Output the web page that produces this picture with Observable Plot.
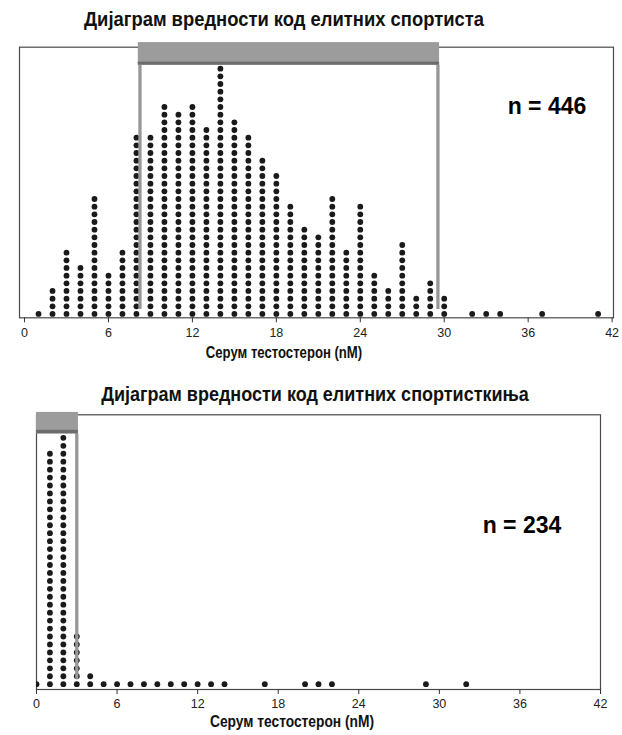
<!DOCTYPE html>
<html><head><meta charset="utf-8">
<script src="https://cdn.jsdelivr.net/npm/d3@7"></script>
<script src="https://cdn.jsdelivr.net/npm/@observablehq/plot@0.6"></script>
<style>
body{margin:0;background:#fff;font-family:"Liberation Sans",Arial,sans-serif;}
#root{position:relative;width:622px;height:735px;overflow:hidden;background:#fff}
.abs{position:absolute;white-space:nowrap;color:#111}
.title{font-weight:bold;font-size:20px}
.nlab{font-weight:bold;font-size:23px;color:#000}
.xlab{font-weight:bold;font-size:16px}
svg{position:absolute;left:0}
</style>
</head><body>
<div id="root"></div>
<script>
// ---- data ----
const titleMale = "Дијаграм вредности код елитних спортиста";
const titleFemale = "Дијаграм вредности код елитних спортисткиња";
const xAxisLabel = "Серум тестостерон (nM)";
const xTicks = [0, 6, 12, 18, 24, 30, 36, 42];

const maleValues = [1,2,3,4,5,6,7,8,9,10,11,12,13,14,15,16,17,18,19,20,21,22,23,24,25,26,27,28,29,30,32,33,34,37,41];
const maleCounts = [1,4,9,7,16,6,9,24,24,28,27,28,25,33,26,24,21,19,15,12,11,16,9,15,6,4,10,3,5,3,1,1,1,1,1];
const maleN = 446;
const maleRange = [8.25, 29.55];

const femaleValues = [0,1,2,3,4,5,6,7,8,9,10,11,12,13,14,17,20,21,22,29,32];
const femaleCounts = [1,30,32,7,2,1,1,1,1,1,1,1,1,1,1,1,1,1,1,1,1];
const femaleN = 234;
const femaleRange = [0, 3.0];

// ---- helpers ----
function stack(values, counts) {
  const out = [];
  values.forEach((v, k) => { for (let i = 0; i < counts[k]; i++) out.push({v, i}); });
  return out;
}
const root = document.getElementById("root");
function addText(cls, txt, cx, cy, sx) {
  const d = document.createElement("div");
  d.className = "abs " + cls;
  d.textContent = txt;
  d.style.left = cx + "px";
  d.style.top = cy + "px";
  d.style.transform = `translate(-50%,-50%) scaleX(${sx || 1})`;
  root.appendChild(d);
}
const style = {fontFamily: "Liberation Sans, Arial, sans-serif", fontSize: "12.5px", color: "#222", background: "transparent", overflow: "visible"};

function chart(o) {
  const dots = stack(o.values, o.counts);
  const svg = Plot.plot({
    width: 622, height: o.height,
    marginLeft: o.ml, marginRight: o.mr, marginTop: o.mt, marginBottom: o.mb,
    x: {domain: o.xdom, ticks: xTicks, tickSize: 5, tickPadding: 5, label: null},
    y: {domain: o.ydom, axis: null},
    style,
    marks: [
      Plot.frame({stroke: "#4a4a4a", strokeWidth: 1.2}),
      Plot.dot(dots, {x: "v", y: "i", r: 2.9, fill: "#1a1a1a", stroke: "none", clip: true}),
      Plot.ruleX(o.range.filter(d => d > o.xdom[0] + 0.01), {y1: o.ruleY1, y2: o.barY1, stroke: "#979797", strokeWidth: 3.3}),
      Plot.rect([o.range], {x1: d => d[0], x2: d => d[1], y1: o.barY1, y2: o.barY2, fill: "#9c9c9c", insetLeft: o.insetL, insetRight: -1.65}),
      Plot.rect([o.range], {x1: d => d[0], x2: d => d[1], y1: o.barY1, y2: o.bandY2, fill: "#6c6c6c", insetLeft: o.insetL, insetRight: -1.65}),
      Plot.axisX({ticks: xTicks, tickSize: 5, tickPadding: 5, stroke: "#333"})
    ]
  });
  svg.style.top = o.top + "px";
  root.appendChild(svg);
}

// top chart: svg top at 30
chart({values: maleValues, counts: maleCounts, range: maleRange,
  top: 30, height: 325, ml: 19, mr: 9, mt: 16.7, mb: 37.7,
  xdom: [-0.36, 42.1], ydom: [-0.5, 34.8],
  ruleY1: 0.58, barY1: 32.45, barY2: 35.4, bandY2: 32.85, insetL: -1.65});

// bottom chart: svg top at 405
chart({values: femaleValues, counts: femaleCounts, range: femaleRange,
  top: 405, height: 315, ml: 36, mr: 22, mt: 9.3, mb: 31,
  xdom: [0, 42], ydom: [-0.67, 33.9],
  ruleY1: 0.6, barY1: 31.5, barY2: 34.2, bandY2: 31.95, insetL: 0});

addText("title", titleMale, 284, 19, 0.92);
addText("title", titleFemale, 315, 394, 0.9);
addText("nlab", "n = " + maleN, 547, 106);
addText("nlab", "n = " + femaleN, 522, 525);
addText("xlab", xAxisLabel, 284, 353, 0.82);
addText("xlab", xAxisLabel, 292, 722, 0.86);
</script>
</body></html>
